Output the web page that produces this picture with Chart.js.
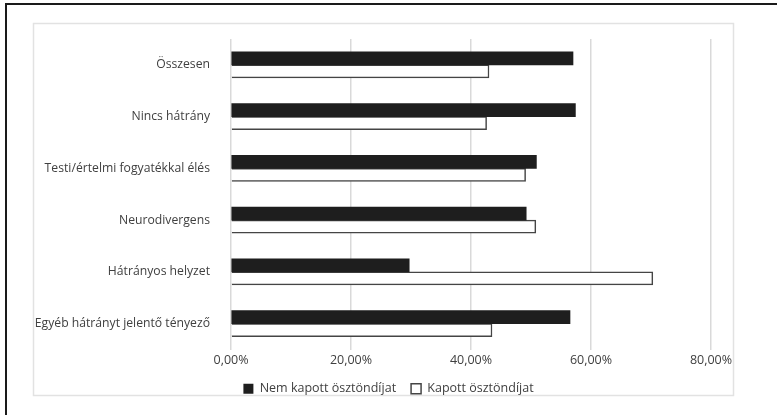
<!DOCTYPE html>
<html>
<head>
<meta charset="utf-8">
<script src="https://cdn.jsdelivr.net/npm/chart.js@4.4.1/dist/chart.umd.min.js"></script>
<style>
  html, body { margin: 0; padding: 0; background: #ffffff; }
  #wrap { position: relative; width: 777px; height: 415px; }
</style>
</head>
<body>
<div id="wrap"><canvas id="chart" width="777" height="415"></canvas></div>
<script>
// Categories (top to bottom)
const categories = [
  'Összesen',
  'Nincs hátrány',
  'Testi/értelmi fogyatékkal élés',
  'Neurodivergens',
  'Hátrányos helyzet',
  'Egyéb hátrányt jelentő tényező'
];
// Shares in percent
const nemKapott = [57.0, 57.4, 50.9, 49.2, 29.7, 56.5];
const kapott    = [43.0, 42.6, 49.1, 50.8, 70.3, 43.5];
const seriesNames = ['Nem kapott ösztöndíjat', 'Kapott ösztöndíjat'];
// Axis ticks in percent
const xTicks = [0, 20, 40, 60, 80];

const textColor = '#404040';
const fontFamily = '"Open Sans", "Liberation Sans", sans-serif';

// Frame lines: dark outer frame (top/left) and light inner box
const framePlugin = {
  id: 'frame',
  beforeDraw(chart) {
    const ctx = chart.ctx;
    ctx.save();
    ctx.fillStyle = '#ffffff';
    ctx.fillRect(0, 0, chart.width, chart.height);
    ctx.strokeStyle = '#1a1a1a';
    ctx.lineWidth = 2;
    ctx.beginPath();
    ctx.moveTo(6, chart.height);
    ctx.lineTo(6, 4);
    ctx.lineTo(chart.width, 4);
    ctx.stroke();
    ctx.strokeStyle = '#e2e2e2';
    ctx.lineWidth = 1.5;
    ctx.strokeRect(33.5, 23.5, 700, 372);
    ctx.restore();
  }
};

// Centre the legend under the inner box rather than under the plot box
const legendShift = {
  id: 'legendShift',
  afterLayout(chart) {
    const lg = chart.legend;
    if (lg) { lg.left += 33; lg.right += 33; }
  }
};

new Chart(document.getElementById('chart'), {
  type: 'bar',
  data: {
    labels: categories,
    datasets: [
      {
        label: seriesNames[0],
        data: nemKapott,
        backgroundColor: '#1e1e1e',
        borderColor: '#1e1e1e',
        borderWidth: 0,
        barThickness: 13
      },
      {
        label: seriesNames[1],
        data: kapott,
        backgroundColor: '#ffffff',
        borderColor: '#454545',
        borderWidth: 1.5,
        barThickness: 13
      }
    ]
  },
  options: {
    indexAxis: 'y',
    responsive: false,
    animation: false,
    layout: { padding: { left: 0, right: 66, top: 39, bottom: 10 } },
    plugins: {
      legend: {
        position: 'bottom',
        labels: {
          color: textColor,
          font: { family: fontFamily, size: 12.5 },
          boxWidth: 10,
          boxHeight: 10,
          padding: 15
        }
      },
      tooltip: { enabled: false }
    },
    scales: {
      x: {
        min: xTicks[0],
        max: xTicks[xTicks.length - 1],
        afterBuildTicks(axis) { axis.ticks = xTicks.map(v => ({ value: v })); },
        afterFit(axis) { axis.height = 18; },
        ticks: {
          color: textColor,
          font: { family: fontFamily, size: 12.5 },
          padding: 3,
          callback: v => v.toFixed(2).replace('.', ',') + '%'
        },
        grid: { color: '#d9d9d9', lineWidth: 1.5, drawTicks: false },
        border: { display: false }
      },
      y: {
        afterFit(axis) { axis.width = 231; },
        ticks: {
          color: textColor,
          font: { family: fontFamily, size: 12.2 },
          padding: 13
        },
        grid: { display: false },
        border: { display: false }
      }
    }
  },
  plugins: [framePlugin, legendShift]
});
</script>
</body>
</html>
